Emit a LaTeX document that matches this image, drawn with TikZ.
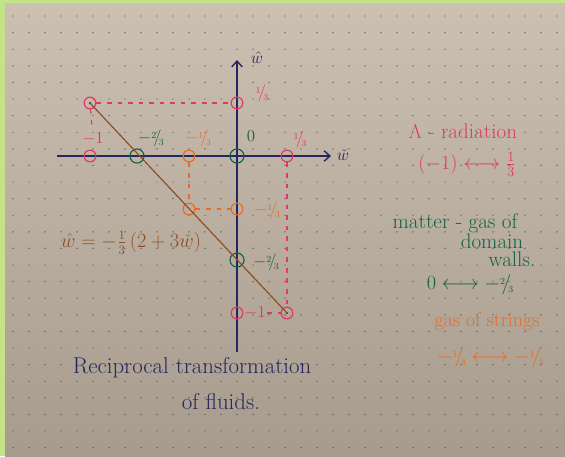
\documentclass[tikz,border=0pt]{standalone}
\usepackage{amsmath}
\usetikzlibrary{arrows.meta,positioning}
\definecolor{paperTop}  {RGB}{203,192,177}
\definecolor{paperBot}  {RGB}{166,155,140}
\definecolor{frameGreen}{RGB}{196,226,134}
\definecolor{dotGray}   {RGB}{80, 80, 88}
\definecolor{inkBlue}   {RGB}{35, 38, 95}
\definecolor{inkPink}   {RGB}{222,58, 100}
\definecolor{inkGreen}  {RGB}{18, 98, 72}
\definecolor{inkOrange} {RGB}{232,108,38}
\definecolor{inkBrown}  {RGB}{140,78, 38}
\newcommand{\slfrac}[2]{\raisebox{.5ex}{\footnotesize#1}\!/\!\raisebox{-.4ex}{\footnotesize#2}}

\begin{document}
\begin{tikzpicture}[x=0.3mm,y=-0.3mm,
    valring/.style={circle,draw,line width=1pt,minimum size=10pt,inner sep=0pt},
    zring/.style={valring,minimum size=12pt},
    axisline/.style={inkBlue,line width=1.2pt},
    guide/.style={dashed,line width=0.9pt,dash pattern=on 4pt off 5pt},
    lbl/.style={font=\Large},
    note/.style={font=\fontsize{18}{20}\selectfont}]

    % ════════ papel pontilhado ════════
    \useasboundingbox (0,0) rectangle (565,456);
    \fill[frameGreen] (0,0) rectangle (565,456);
    \shade[top color=paperTop,bottom color=paperBot] (5,3) rectangle (565,456);
    \foreach \i in {0,...,34}{
      \foreach \j in {0,...,26}{
        \fill[dotGray] (13+16*\i,16+16.6*\j) circle (0.6pt);
      }
    }

    % ════════ eixos ════════
    \coordinate (xL) at (57,156);
    \coordinate (xR) at (331,156);
    \coordinate (yB) at (237,352);
    \coordinate (yT) at (237,60);
    \draw[axisline,-{Straight Barb[length=5pt,width=9pt]}] (xL) -- (xR);
    \draw[axisline,-{Straight Barb[length=5pt,width=9pt]}] (yB) -- (yT);
    \node[inkBlue,lbl] (wHat) at (257,58){$\hat{w}$};
    \node[inkBlue,lbl] (wChk) at (343,155){$\check{w}$};

    % pontos no eixo horizontal
    \node[valring,inkPink]   (hM1)  at (90,156){};
    \node[zring,inkGreen]    (hM23) at (137,156){};
    \node[valring,inkOrange] (hM13) at (189,156){};
    \node[zring,inkGreen]    (hZ)   at (237,156){};
    \node[valring,inkPink]   (hP13) at (287,156){};
    % pontos no eixo vertical
    \node[valring,inkPink]   (vP13) at (237,103){};
    \node[valring,inkOrange] (vM13) at (237,209){};
    \node[zring,inkGreen]    (vM23) at (237,260){};
    \node[valring,inkPink]   (vM1)  at (237,313){};
    % extremos da reta
    \node[valring,inkPink]   (pA)   at (90,103){};
    \node[valring,inkOrange] (pB)   at (189,209){};
    \node[valring,inkPink]   (pE)   at (287,313){};
    \fill[inkBrown!60!black] (pA.center) circle (1pt) (pE.center) circle (1pt);

    % reta da transformacao
    \draw[inkBrown,line width=1pt] (pA.center) -- (pE.center);

    % rotulos dos pontos
    \node[inkPink,lbl]   (lhM1)  at (93,139){$-1$};
    \node[inkGreen,lbl]  (lhM23) at (151,138){$-\slfrac23$};
    \node[inkOrange,lbl] (lhM13) at (198,138){$-\slfrac13$};
    \node[inkGreen,lbl]  (lhZ)   at (251,136){$0$};
    \node[inkPink,lbl]   (lhP13) at (300,139){$\slfrac13$};
    \node[inkPink,lbl]   (lvP13) at (262,93){$\slfrac13$};
    \node[inkOrange,lbl] (lvM13) at (267,210){$-\slfrac13$};
    \node[inkGreen,lbl]  (lvM23) at (266,262){$-\slfrac23$};
    \node[inkPink,lbl,inner sep=1pt] (lvM1) at (255,313){$-1$};

    % linhas guia
    \draw[guide,inkPink]   (pA) -- (vP13);
    \draw[guide,inkPink]   (pA) -- (lhM1);
    \draw[guide,inkPink]   (hP13) -- (pE);
    \draw[guide,inkPink]   (lvM1) -- (pE);
    \draw[guide,inkOrange] (hM13) -- (pB);
    \draw[guide,inkOrange] (pB) -- (vM13);

    % formula
    \node[inkBrown,font=\fontsize{16}{18}\selectfont] (relW) at (131,243)
      {$\hat{w} = -\frac{1}{3}\,(2+3\check{w})$};

    % ════════ legendas (lado direito) ════════
    \node[inkPink,note]   (lamRad) at (463,131){$\Lambda$ - radiation};
    \node[inkPink,note]   (lamMap) at (467,164){$(-1)\longleftrightarrow\frac{1}{3}$};
    \node[inkGreen,note]  (matA)   at (455,223){matter - gas of};
    \node[inkGreen,note]  (matB)   at (492,241){domain};
    \node[inkGreen,note]  (matC)   at (512,259){walls.};
    \node[inkGreen,note]  (matMap) at (470,284){$0\longleftrightarrow -\slfrac23$};
    \node[inkOrange,font=\fontsize{17}{19}\selectfont] (strA) at (487,322){gas of strings};
    \node[inkOrange,note] (strMap) at (490,357){$-\slfrac13\longleftrightarrow -\slfrac13$};

    % titulo
    \node[inkBlue,font=\fontsize{19.5}{22}\selectfont] (capA) at (192,368){Reciprocal transformation};
    \node[inkBlue,font=\fontsize{19.5}{22}\selectfont] (capB) at (221,402){of fluids.};

  \end{tikzpicture}
\end{document}
